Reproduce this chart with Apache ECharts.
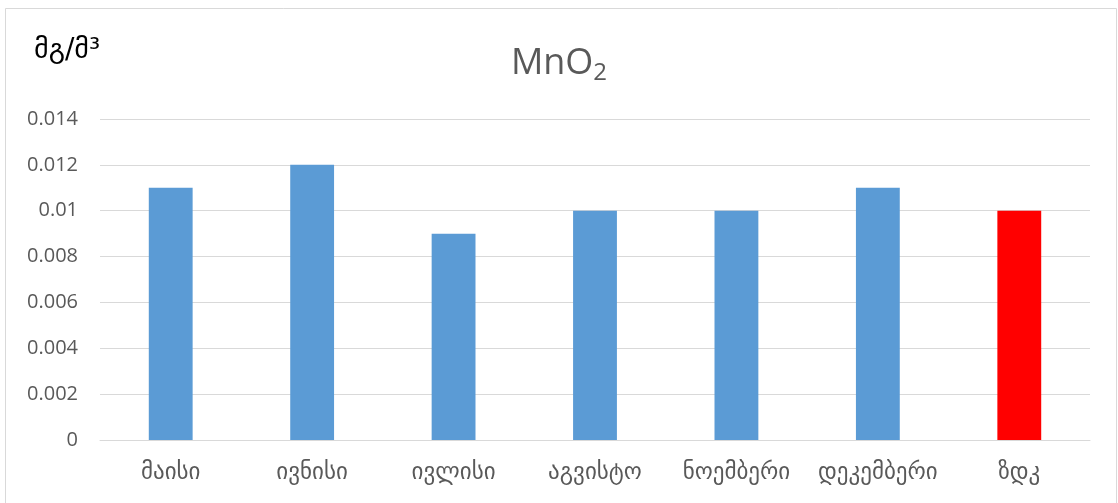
<!DOCTYPE html>
<html>
<head>
<meta charset="utf-8">
<style>
html,body{margin:0;padding:0;background:#fff;}
#chart{width:1118px;height:503px;}
</style>
<script src="https://cdn.jsdelivr.net/npm/echarts@6/dist/echarts.min.js"></script>
</head>
<body>
<div id="chart"></div>
<script>
const categories = ['მაისი', 'ივნისი', 'ივლისი', 'აგვისტო', 'ნოემბერი', 'დეკემბერი', 'ზდკ'];
const values = [0.011, 0.012, 0.009, 0.010, 0.010, 0.011, 0.010];
const barColors = ['#5b9bd5', '#5b9bd5', '#5b9bd5', '#5b9bd5', '#5b9bd5', '#5b9bd5', '#ff0000'];
const yTicks = { min: 0, max: 0.014, interval: 0.002 };

const chart = echarts.init(document.getElementById('chart'), null, { renderer: 'canvas' });
chart.setOption({
  animation: false,
  backgroundColor: '#fff',
  graphic: [
    { type: 'rect', shape: { x: 5.5, y: 8.5, width: 1111, height: 510 },
      style: { fill: 'none', stroke: '#d9d9d9', lineWidth: 1 }, z: -10 },
    { type: 'text', left: 34, top: 37,
      style: { text: 'მგ/მ³', font: '28px "DejaVu Sans", sans-serif', fill: '#000' } }
  ],
  title: {
    text: '{m|MnO}{s|2}',
    left: 'center',
    top: 38,
    textStyle: {
      fontWeight: 'normal',
      rich: {
        m: { fontSize: 36, fontWeight: 'normal', fontFamily: 'Open Sans, sans-serif', color: '#595959' },
        s: { fontSize: 24, fontWeight: 'normal', fontFamily: 'Open Sans, sans-serif', color: '#595959', padding: [18, 0, 0, 0] }
      }
    }
  },
  grid: { left: 100, right: 28, top: 119, bottom: 63 },
  xAxis: {
    type: 'category',
    data: categories,
    axisLine: { show: true, lineStyle: { color: '#d9d9d9' } },
    axisTick: { show: false },
    axisLabel: { interval: 0, color: '#595959', fontSize: 23, fontFamily: '"DejaVu Sans", sans-serif', margin: 22 }
  },
  yAxis: {
    type: 'value',
    min: yTicks.min, max: yTicks.max, interval: yTicks.interval,
    axisLine: { show: false },
    axisTick: { show: false },
    splitLine: { lineStyle: { color: '#d9d9d9' } },
    axisLabel: { color: '#595959', fontSize: 20, fontFamily: 'Open Sans, sans-serif', margin: 22,
      formatter: v => v === 0 ? '0' : String(parseFloat(v.toFixed(3))) }
  },
  series: [{
    type: 'bar',
    data: values.map((v, i) => ({ value: v, itemStyle: { color: barColors[i] } })),
    barWidth: '31%'
  }]
});
</script>
</body>
</html>
